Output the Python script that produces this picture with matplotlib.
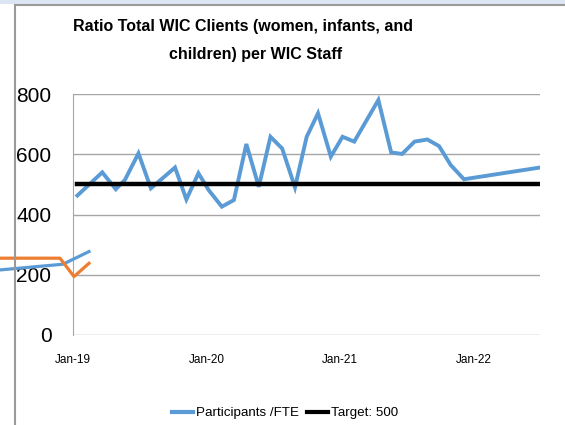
import matplotlib
matplotlib.use("Agg")
import matplotlib.pyplot as plt
from matplotlib.lines import Line2D
from matplotlib.patches import Rectangle
import pandas as pd

# ---- data ----
dates = ["2019-01-13", "2019-03-22", "2019-04-28", "2019-05-23", "2019-06-29",
         "2019-08-02", "2019-10-07", "2019-11-07", "2019-12-10", "2020-01-07",
         "2020-02-12", "2020-03-16", "2020-04-19", "2020-05-23", "2020-06-24",
         "2020-07-26", "2020-08-30", "2020-10-01", "2020-11-01", "2020-12-06",
         "2021-01-07", "2021-02-08", "2021-04-15", "2021-05-20", "2021-06-19",
         "2021-07-23", "2021-08-27", "2021-09-28", "2021-10-30", "2021-12-05",
         "2022-07-01"]
participants_per_fte = [463, 540, 484, 515, 603, 487, 556, 450, 537, 481,
                        426, 448, 634, 492, 658, 619, 490, 658, 736, 592,
                        658, 642, 780, 606, 601, 642, 649, 627, 564, 517,
                        556]
target = 500
x_tick_dates = ["2019-01-01", "2020-01-01", "2021-01-01", "2022-01-01"]
x_tick_labels = ["Jan-19", "Jan-20", "Jan-21", "Jan-22"]
y_ticks = [0, 200, 400, 600, 800]
title_lines = ["Ratio Total WIC Clients (women, infants, and",
               "children) per WIC Staff"]
series_labels = ["Participants /FTE", "Target: 500"]

# partially visible chart behind (left edge of the screenshot)
behind_blue_x = [0, 63, 89]
behind_blue_y = [216, 235, 277]
behind_orange_x = [0, 60, 74, 89]
behind_orange_y = [255, 255, 194, 238]

BLUE = "#5b9bd5"
ORANGE = "#ed7d31"
GRID = "#a6a6a6"
FONT = ["Liberation Sans", "DejaVu Sans"]

W, H = 565, 425
fig = plt.figure(figsize=(W / 100, H / 100), dpi=100)
fig.patch.set_facecolor("white")

# screenshot frame decorations
fig.patches.append(Rectangle((0, 1 - 4 / H), 1, 4 / H, transform=fig.transFigure,
                             facecolor="#dce6f2", edgecolor="none", zorder=0))
fig.lines.append(Line2D([14.5 / W, 1], [1 - 4.5 / H, 1 - 4.5 / H],
                        transform=fig.transFigure, color="#9a9a9a", lw=1.5))
fig.lines.append(Line2D([14.5 / W, 14.5 / W], [0, 1 - 4.5 / H],
                        transform=fig.transFigure, color="#9a9a9a", lw=1.5))

left, right = 73 / W, 540 / W
bottom, top = (H - 335) / H, (H - 94) / H
ax = fig.add_axes([left, bottom, right - left, top - bottom])

d = pd.to_datetime(dates)
ax.plot(d, participants_per_fte, color=BLUE, lw=2.8, solid_joinstyle="miter",
        label=series_labels[0], zorder=3)
ax.plot([d[0], d[-1]], [target, target], color="black", lw=3.2,
        label=series_labels[1], zorder=4)

ax.set_xlim(pd.Timestamp("2019-01-01"), pd.Timestamp("2022-07-01"))
ax.set_ylim(0, 800)
ax.set_yticks(y_ticks)
ax.set_yticklabels([str(v) for v in y_ticks], fontsize=15, family=FONT)
ax.set_xticks(pd.to_datetime(x_tick_dates))
ax.set_xticklabels(x_tick_labels, fontsize=8.5, family=FONT)
ax.tick_params(axis="y", length=0, pad=15.5)
ax.tick_params(axis="x", length=0, pad=14)
ax.grid(axis="y", color=GRID, lw=1)
for s in ["top", "right", "bottom"]:
    ax.spines[s].set_visible(False)
ax.spines["left"].set_color(GRID)
ax.set_axisbelow(True)

fig.text(243 / W, 1 - 27 / H, title_lines[0], ha="center", va="center",
         fontsize=11.5, fontweight="bold", family=FONT)
fig.text(256 / W, 1 - 55 / H, title_lines[1], ha="center", va="center",
         fontsize=11.5, fontweight="bold", family=FONT)

handles = [Line2D([], [], color=BLUE, lw=3), Line2D([], [], color="black", lw=3)]
fig.legend(handles, series_labels, loc="center", bbox_to_anchor=(285 / W, 1 - 413 / H),
           ncol=2, frameon=False, prop={"family": FONT, "size": 9.6},
           handlelength=1.6, handletextpad=0.2, columnspacing=0.6)

# overlay of partially visible chart
axb = fig.add_axes([0, bottom, 95 / W, top - bottom])
axb.set_xlim(0, 95)
axb.set_ylim(0, 800)
axb.axis("off")
axb.patch.set_alpha(0)
axb.plot(behind_blue_x, behind_blue_y, color=BLUE, lw=2.3)
axb.plot(behind_orange_x, behind_orange_y, color=ORANGE, lw=2.3)

fig.savefig("out.png", dpi=100)
